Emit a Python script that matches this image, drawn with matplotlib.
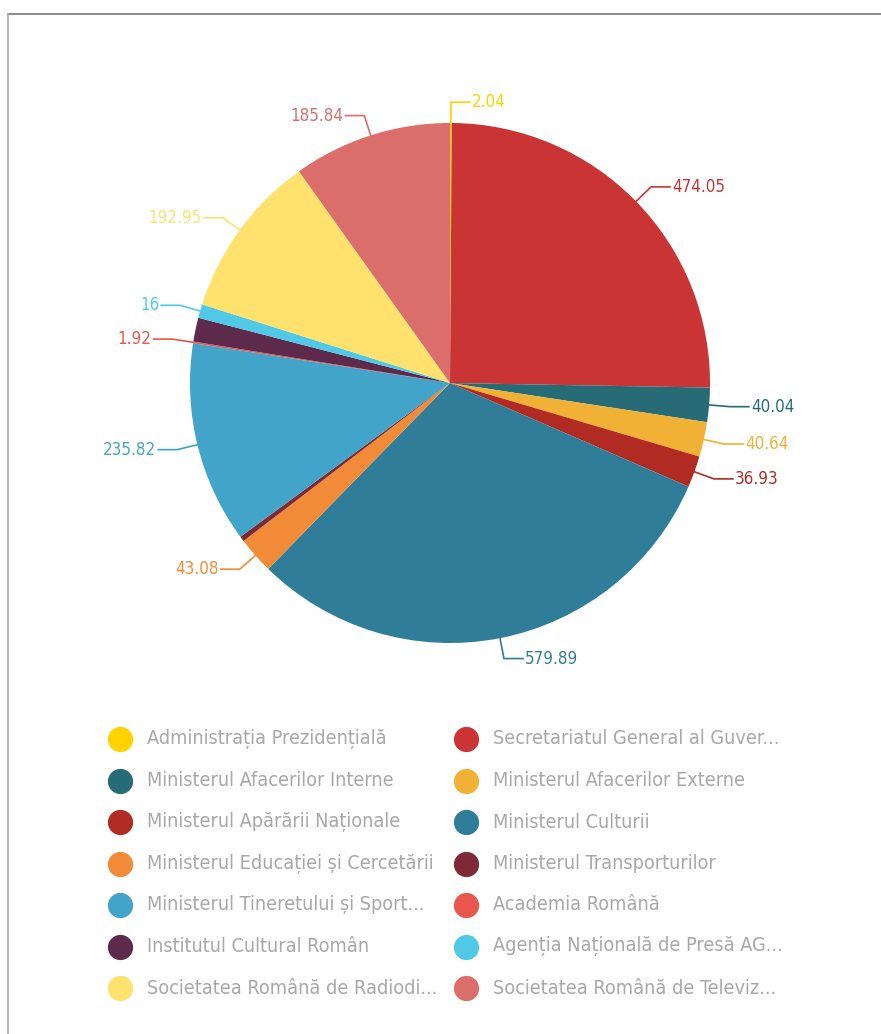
import numpy as np
import matplotlib
matplotlib.use("Agg")
from matplotlib import pyplot as plt

# data
names = ["Administrația Prezidențială", "Secretariatul General al Guver...",
         "Ministerul Afacerilor Interne", "Ministerul Afacerilor Externe",
         "Ministerul Apărării Naționale", "Ministerul Culturii",
         "Ministerul Educației și Cercetării", "Ministerul Transporturilor",
         "Ministerul Tineretului și Sport...", "Academia Română",
         "Institutul Cultural Român", "Agenția Națională de Presă AG...",
         "Societatea Română de Radiodi...", "Societatea Română de Televiz..."]
values = [2.04, 474.05, 40.04, 40.64, 36.93, 579.89, 43.08, 6.0,
          235.82, 1.92, 28.0, 16, 192.95, 185.84]
show_label = [True, True, True, True, True, True, True, False,
              True, True, False, True, True, True]
colors = ["#ffd200", "#cb3434", "#276b77", "#f1b135", "#b12b22", "#2f7d98",
          "#f18b38", "#7e2935", "#41a4c8", "#e9574c", "#5e2a4c", "#4fc9e6",
          "#ffe26e", "#db6e6a"]

plt.rcParams["font.family"] = ["DejaVu Sans"]
plt.rcParams["font.stretch"] = "condensed"

W, H = 881, 1034
fig = plt.figure(figsize=(W / 100, H / 100), dpi=100)
ax = fig.add_axes([0, 0, 1, 1])

cx, cy, r = 450, H - 383, 260
wedges, _ = ax.pie(values, colors=colors, center=(cx, cy), radius=r,
                   startangle=90, counterclock=False,
                   wedgeprops=dict(linewidth=0))

# value labels with leader lines
total = sum(values)
cum = 0
for v, c, show in zip(values, colors, show_label):
    mid = (cum + v / 2) / total * 2 * np.pi
    cum += v
    if not show:
        continue
    sx, sy = np.sin(mid), np.cos(mid)
    x0, y0 = cx + r * sx, cy + r * sy
    x1, y1 = cx + r * 1.08 * sx, cy + r * 1.08 * sy
    side = 1 if sx >= 0 else -1
    x2 = x1 + side * 19
    ax.plot([x0, x1, x2], [y0, y1, y1], color=c, lw=1.2)
    ax.text(x2 + side * 2, y1, f"{v:g}",
            color=c, fontsize=12.2, ha="left" if side > 0 else "right",
            va="center")

# legend in two columns
for i, (n, c) in enumerate(zip(names, colors)):
    col, row = i % 2, i // 2
    lx = 120 + col * 346
    ly = H - (739 + row * 41.5)
    ax.scatter([lx], [ly], s=330, color=c, linewidths=0)
    ax.text(lx + 27, ly, n, color="#a8a8a8", fontsize=14.2, va="center",
            ha="left")

ax.set_xlim(0, W)
ax.set_ylim(0, H)
ax.set_aspect("auto")
ax.axis("off")

# frame lines of the panel
ax.plot([8, W], [H - 14, H - 14], color="#777777", lw=1.2)
ax.plot([8, 8], [H - 14, 0], color="#aaaaaa", lw=1.2)

fig.savefig("out.png", dpi=100)
